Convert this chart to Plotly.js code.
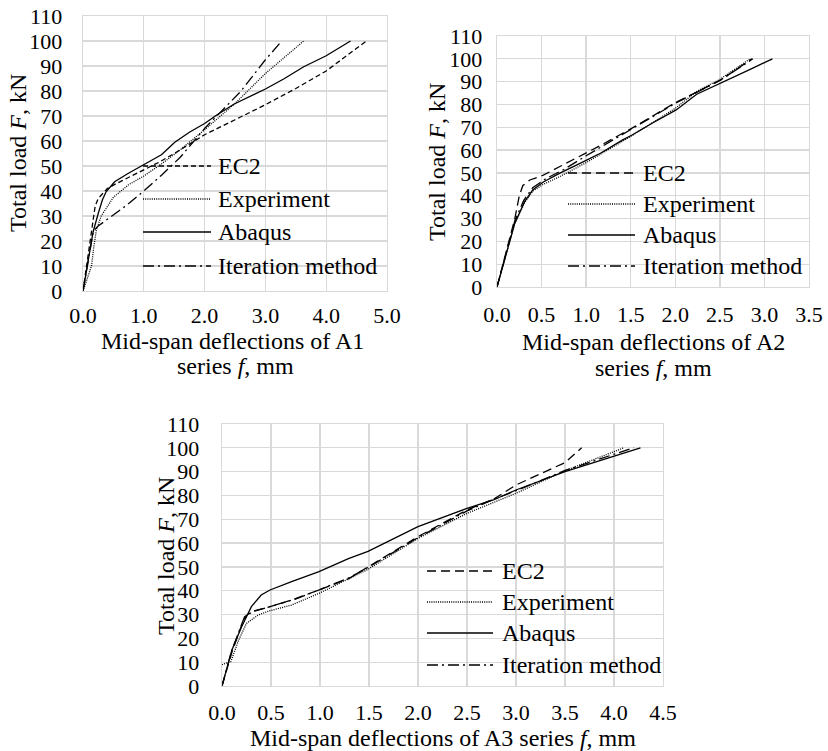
<!DOCTYPE html>
<html><head><meta charset="utf-8">
<script src="https://cdn.plot.ly/plotly-3.0.1.min.js"></script>
<style>html,body{margin:0;padding:0;background:#fff}#chart{width:828px;height:751px}</style>
</head><body><div id="chart"></div><script>
// ---------- data ----------
const seriesNames = ["EC2", "Experiment", "Abaqus", "Iteration method"];

// A1
const a1_ec2_x = [0,0.1,0.2,0.25,0.4,0.55,0.8,1.0,1.25,1.5,2.0,2.5,3.0,3.5,4.0,4.66];
const a1_ec2_y = [0,18,34,37,41,43,46,48.5,51.5,55,62.5,68.5,74.5,81,88,100];
const a1_exp_x = [0,0.14,0.18,0.22,0.3,0.4,0.5,0.75,1.0,1.3,1.6,2.0,2.5,3.0,3.63];
const a1_exp_y = [0,10,18,24.5,30,34,37.5,42.5,46,51,56.5,64.5,75,87,100];
const a1_abq_x = [0,0.08,0.165,0.25,0.32,0.38,0.52,0.74,1.0,1.29,1.4,1.51,1.75,2.0,2.2,2.48,3.0,3.3,3.63,4.0,4.4];
const a1_abq_y = [0,11,23.5,31,36.5,39.7,43.7,47,50.5,54.5,57,59.5,63.5,67,70.4,74.7,80.8,84.8,89.7,94.1,100];
const a1_itr_x = [0,0.08,0.17,0.25,0.45,0.7,1.0,1.3,1.6,2.0,2.3,2.6,3.0,3.27];
const a1_itr_y = [0,11,24,26,29.5,34,40,46.5,53.5,65,72.5,80,92.5,100];

// A2
const a2_ec2_x = [0,0.1,0.2,0.25,0.29,0.37,0.52,0.7,1.0,1.16,1.41,1.51,2.01,2.51,2.86];
const a2_ec2_y = [0,15,30,40,44.5,46.9,49,52.7,58.6,62,67.4,69.5,81,90.7,100];
const a2_exp_x = [0,0.1,0.2,0.31,0.4,0.52,0.7,1.0,1.5,2.0,2.25,2.5,2.84];
const a2_exp_y = [0,14,28,37,42,45,48.3,54.5,66,78.3,86,91,100];
const a2_abq_x = [0,0.1,0.2,0.31,0.4,0.52,0.7,1.0,1.16,1.41,1.51,1.75,2.01,2.24,2.51,2.84,3.09];
const a2_abq_y = [0,14,28,37.4,42.5,46,49.8,55.5,58.6,64.5,66.5,72,77.6,84.5,89.3,95.4,100];
const a2_itr_x = [0,0.1,0.2,0.3,0.4,0.55,0.75,1.0,1.5,2.0,2.5,2.87];
const a2_itr_y = [0,14.5,29,38,43.5,47.5,51.5,57.5,69,80.5,90.5,100];

// A3
const a3_ec2_x = [0,0.1,0.23,0.3,0.49,0.71,0.99,1.29,1.49,2.0,2.5,2.77,3.0,3.5,3.67];
const a3_ec2_y = [0,14,29,31.2,33.3,36.1,40.3,45,50,62.7,73.9,78.4,84.4,93.8,100];
const a3_exp_x = [0,0.09,0.17,0.25,0.37,0.49,0.71,0.99,1.49,2.0,2.5,3.0,3.5,4.1];
const a3_exp_y = [9,10.2,19.3,26.3,29.8,31.6,34,38.9,49,62,72.5,80.9,90.4,100];
const a3_abq_x = [0,0.1,0.2,0.3,0.4,0.49,0.71,0.99,1.29,1.49,2.0,2.5,2.77,3.0,3.5,4.0,4.27];
const a3_abq_y = [0,15,24.9,33.3,38.2,40.3,43.8,48,53.5,56.5,66.9,74.6,78.1,82.3,90,96.3,100];
const a3_itr_x = [0,0.1,0.22,0.3,0.5,0.75,1.0,1.3,1.5,2.0,2.5,2.75,3.0,3.5,4.2];
const a3_itr_y = [0,15,28,31,33.5,36.5,40.5,45.5,50,62.3,73.5,78,82,90.5,100];

const yTicks = [0,10,20,30,40,50,60,70,80,90,100,110];

// ---------- styling ----------
const W = 828, H = 751;
const px = x => x / W;
const py = y => 1 - y / H;
const FONT = "Liberation Serif";
const INK = "#000";
const LW = 1.3;

const styles = {
  a1: {
    "EC2": {dash: "5px,3px"},
    "Experiment": {dash: "1px,1.2px"},
    "Abaqus": {dash: "solid"},
    "Iteration method": {dash: "11px,4px,2px,4px"}
  },
  a23: {
    "EC2": {dash: "9px,5px"},
    "Experiment": {dash: "1px,1.2px"},
    "Abaqus": {dash: "solid"},
    "Iteration method": {dash: "11px,4px,2px,4px"}
  }
};

const groups = [
  {xa: "x", ya: "y", st: styles.a1,
   data: [[a1_ec2_x,a1_ec2_y],[a1_exp_x,a1_exp_y],[a1_abq_x,a1_abq_y],[a1_itr_x,a1_itr_y]]},
  {xa: "x2", ya: "y2", st: styles.a23,
   data: [[a2_ec2_x,a2_ec2_y],[a2_exp_x,a2_exp_y],[a2_abq_x,a2_abq_y],[a2_itr_x,a2_itr_y]]},
  {xa: "x3", ya: "y3", st: styles.a23,
   data: [[a3_ec2_x,a3_ec2_y],[a3_exp_x,a3_exp_y],[a3_abq_x,a3_abq_y],[a3_itr_x,a3_itr_y]]}
];

const traces = [];
groups.forEach(g => {
  g.data.forEach((d, i) => {
    const nm = seriesNames[i];
    traces.push({
      x: d[0], y: d[1], name: nm, type: "scatter", mode: "lines",
      xaxis: g.xa, yaxis: g.ya, showlegend: false, hoverinfo: "skip",
      line: {color: INK, width: LW, dash: g.st[nm].dash}
    });
  });
});

function xAxis(dom, anchor, range, standoff) {
  return {
    domain: dom, anchor: anchor, range: range, dtick: 0.5, tick0: 0,
    tickformat: ".1f", showgrid: true, gridcolor: "#d9d9d9", gridwidth: LW,
    zeroline: false, showline: true, mirror: true, linecolor: "#d9d9d9", linewidth: LW,
    ticks: "", ticklabelstandoff: standoff,
    tickfont: {family: FONT, size: 22, color: INK}, fixedrange: true
  };
}
function yAxis(dom, anchor, standoff) {
  return {
    domain: dom, anchor: anchor, range: [0, 110],
    tickmode: "array", tickvals: yTicks, ticktext: yTicks.map(String),
    showgrid: true, gridcolor: "#d9d9d9", gridwidth: LW,
    zeroline: false, showline: true, mirror: true, linecolor: "#d9d9d9", linewidth: LW,
    ticks: "", ticklabelstandoff: standoff,
    tickfont: {family: FONT, size: 22, color: INK}, fixedrange: true
  };
}

const xa1 = xAxis([px(83), px(387)], "y", [0, 5], 4); xa1.dtick = 1;
const xa2 = xAxis([px(497), px(809)], "y2", [0, 3.5], 7);
const xa3 = xAxis([px(222), px(663)], "y3", [0, 4.5], 6);
const ya1 = yAxis([py(291), py(16)], "x", 15);
const ya2 = yAxis([py(287), py(36)], "x2", 9);
const ya3 = yAxis([py(686), py(424)], "x3", 17);

// ---------- legends & titles (positions in page pixels) ----------
const shapes = [];
const annotations = [];
function legend(x0, x1, tx, ys, st) {
  seriesNames.forEach((nm, i) => {
    shapes.push({type: "line", xref: "paper", yref: "paper",
      x0: px(x0), x1: px(x1), y0: py(ys[i]), y1: py(ys[i]),
      line: {color: INK, width: LW, dash: st[nm].dash}});
    annotations.push({xref: "paper", yref: "paper", x: px(tx), y: py(ys[i]),
      xanchor: "left", yanchor: "middle", showarrow: false, text: nm,
      font: {family: FONT, size: 24, color: INK}});
  });
}
legend(143, 211, 216, [166, 199, 232, 266], styles.a1);
legend(568, 635, 641, [173, 204, 235, 266], styles.a23);
legend(427, 493, 500, [571, 602, 633, 665], styles.a23);

function txt(x, y, t, rot) {
  annotations.push({xref: "paper", yref: "paper", x: px(x), y: py(y),
    xanchor: "center", yanchor: "middle", showarrow: false, text: t,
    textangle: rot || 0, font: {family: FONT, size: 24, color: INK}});
}
txt(18, 153, "Total load <i>F</i>, kN", -90);
txt(437, 162, "Total load <i>F</i>, kN", -90);
txt(166, 556, "Total load <i>F</i>, kN", -90);
txt(232, 341, "Mid-span deflections of A1");
txt(235, 366, "series <i>f</i>, mm");
txt(653, 342, "Mid-span deflections of A2");
txt(653, 368, "series <i>f</i>, mm");
txt(443, 738, "Mid-span deflections of A3 series <i>f</i>, mm");

const layout = {
  width: W, height: H, margin: {l: 0, r: 0, t: 0, b: 0},
  paper_bgcolor: "#fff", plot_bgcolor: "#fff", showlegend: false,
  font: {family: FONT, color: INK},
  xaxis: xa1, yaxis: ya1, xaxis2: xa2, yaxis2: ya2, xaxis3: xa3, yaxis3: ya3,
  shapes: shapes, annotations: annotations
};
Plotly.newPlot("chart", traces, layout, {staticPlot: true, displayModeBar: false});
</script></body></html>
